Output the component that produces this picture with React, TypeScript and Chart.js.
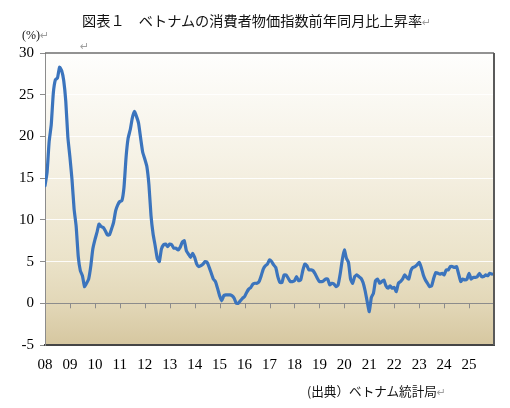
import React, { useEffect, useRef } from "react";
import { Chart, registerables } from "chart.js";

Chart.register(...registerables);

const title = "図表１　ベトナムの消費者物価指数前年同月比上昇率";
const unitLabel = "(%)";
const sourceLabel = "(出典）ベトナム統計局";

const years = [2008, 2009, 2010, 2011, 2012, 2013, 2014, 2015, 2016, 2017, 2018, 2019, 2020, 2021, 2022, 2023, 2024, 2025];

const cpi2008 = [14.1, 15.7, 19.4, 21.4, 25.2, 26.8, 27.0, 28.3, 27.9, 26.7, 24.2, 19.9];
const cpi2009 = [17.5, 14.8, 11.3, 9.2, 5.6, 3.9, 3.3, 2.0, 2.4, 2.9, 4.4, 6.5];
const cpi2010 = [7.6, 8.5, 9.5, 9.2, 9.1, 8.7, 8.2, 8.2, 8.9, 9.7, 11.1, 11.8];
const cpi2011 = [12.2, 12.3, 13.9, 17.5, 19.8, 20.8, 22.2, 23.0, 22.4, 21.6, 19.8, 18.1];
const cpi2012 = [17.3, 16.4, 14.2, 10.5, 8.3, 6.9, 5.4, 5.0, 6.5, 7.0, 7.1, 6.8];
const cpi2013 = [7.1, 7.0, 6.6, 6.6, 6.4, 6.7, 7.3, 7.5, 6.3, 5.9, 5.5, 6.0];
const cpi2014 = [5.5, 4.7, 4.4, 4.5, 4.7, 5.0, 4.9, 4.3, 3.6, 2.9, 2.6, 1.8];
const cpi2015 = [0.9, 0.3, 0.9, 1.0, 1.0, 1.0, 0.9, 0.6, 0.0, 0.0, 0.3, 0.6];
const cpi2016 = [0.8, 1.3, 1.7, 1.9, 2.3, 2.4, 2.4, 2.6, 3.3, 4.1, 4.5, 4.7];
const cpi2017 = [5.2, 5.0, 4.6, 4.3, 3.2, 2.5, 2.5, 3.4, 3.4, 3.0, 2.6, 2.6];
const cpi2018 = [2.7, 3.2, 2.7, 2.8, 3.9, 4.7, 4.5, 4.0, 4.0, 3.9, 3.5, 3.0];
const cpi2019 = [2.6, 2.6, 2.7, 2.9, 2.9, 2.2, 2.4, 2.3, 2.0, 2.2, 3.5, 5.2];
const cpi2020 = [6.4, 5.4, 4.9, 2.9, 2.4, 3.2, 3.4, 3.2, 3.0, 2.5, 1.5, 0.2];
const cpi2021 = [-1.0, 0.7, 1.2, 2.7, 2.9, 2.4, 2.6, 2.8, 2.1, 1.8, 2.1, 1.8];
const cpi2022 = [1.9, 1.4, 2.4, 2.6, 2.9, 3.4, 3.1, 2.9, 3.9, 4.3, 4.4, 4.6];
const cpi2023 = [4.9, 4.3, 3.4, 2.8, 2.4, 2.0, 2.1, 3.0, 3.7, 3.6, 3.5, 3.6];
const cpi2024 = [3.4, 4.0, 4.0, 4.4, 4.4, 4.3, 4.4, 3.5, 2.6, 2.9, 2.8, 2.9];
const cpi2025 = [3.6, 2.9, 3.1, 3.1, 3.2, 3.6, 3.2, 3.2, 3.4, 3.3, 3.6, 3.5];

const cpiByYear = [
  cpi2008, cpi2009, cpi2010, cpi2011, cpi2012, cpi2013, cpi2014, cpi2015, cpi2016,
  cpi2017, cpi2018, cpi2019, cpi2020, cpi2021, cpi2022, cpi2023, cpi2024, cpi2025,
];

const yTicks = [-5, 0, 5, 10, 15, 20, 25, 30];

const points = years.flatMap((yr, yi) =>
  cpiByYear[yi].map((v, m) => ({ x: yr + m / 12, y: v }))
);

const framePlugin = {
  id: "framePlugin",
  beforeDraw(chart: any) {
    const { ctx, chartArea } = chart;
    const g = ctx.createLinearGradient(0, chartArea.top, 0, chartArea.bottom);
    g.addColorStop(0, "#fefefd");
    g.addColorStop(0.35, "#f6f2e6");
    g.addColorStop(0.7, "#ebe3ca");
    g.addColorStop(0.86, "#e2d7b7");
    g.addColorStop(1, "#d6c7a0");
    ctx.save();
    ctx.fillStyle = g;
    ctx.fillRect(chartArea.left, chartArea.top, chartArea.right - chartArea.left, chartArea.bottom - chartArea.top);
    ctx.restore();
  },
  beforeDatasetsDraw(chart: any) {
    const { ctx } = chart;
    const xs = chart.scales.x;
    const ys = chart.scales.y;
    const y0 = ys.getPixelForValue(0);
    ctx.save();
    ctx.strokeStyle = "#8c8c8c";
    ctx.lineWidth = 1;
    years.slice(1).forEach((yr) => {
      const px = Math.round(xs.getPixelForValue(yr)) + 0.5;
      ctx.beginPath();
      ctx.moveTo(px, y0);
      ctx.lineTo(px, y0 + 5);
      ctx.stroke();
    });
    ctx.restore();
  },
  afterDraw(chart: any) {
    const { ctx, chartArea } = chart;
    ctx.save();
    ctx.strokeStyle = "#6e6e6e";
    ctx.lineWidth = 1.5;
    ctx.beginPath();
    ctx.moveTo(chartArea.left, chartArea.top);
    ctx.lineTo(chartArea.right, chartArea.top);
    ctx.stroke();
    ctx.strokeStyle = "#5a5a5a";
    ctx.lineWidth = 2;
    ctx.beginPath();
    ctx.moveTo(chartArea.right, chartArea.top);
    ctx.lineTo(chartArea.right, chartArea.bottom);
    ctx.stroke();
    ctx.restore();
  },
};

function CpiChart() {
  const ref = useRef<HTMLCanvasElement>(null);
  useEffect(() => {
    if (!ref.current) return;
    const chart = new Chart(ref.current, {
      type: "line",
      data: {
        datasets: [
          {
            data: points,
            borderColor: "#3b74bd",
            borderWidth: 3.2,
            pointRadius: 0,
            tension: 0.15,
            fill: false,
            borderJoinStyle: "round",
            borderCapStyle: "round",
          },
        ],
      },
      options: {
        animation: false,
        responsive: false,
        devicePixelRatio: 1,
        layout: { padding: { left: 0, top: 53, right: 16, bottom: 0 } },
        plugins: { legend: { display: false }, tooltip: { enabled: false }, title: { display: false } },
        scales: {
          x: {
            type: "linear",
            min: 2008,
            max: 2026,
            afterFit: (s: any) => {
              s.height = 63;
            },
            afterBuildTicks: (s: any) => {
              s.ticks = years.map((v) => ({ value: v }));
            },
            ticks: {
              autoSkip: false,
              maxRotation: 0,
              padding: 11,
              color: "#000",
              font: { family: "'Liberation Serif', serif", size: 15 },
              callback: (v: any) => String(v).slice(2),
            },
            grid: { display: false, drawTicks: false },
            border: { display: true, color: "#454545", width: 2 },
          },
          y: {
            min: -5,
            max: 30,
            afterFit: (s: any) => {
              s.width = 45;
            },
            afterBuildTicks: (s: any) => {
              s.ticks = yTicks.map((v) => ({ value: v }));
            },
            ticks: {
              padding: 6,
              color: "#000",
              font: { family: "'Liberation Serif', serif", size: 15 },
              callback: (v: any) => String(v),
            },
            grid: {
              drawTicks: true,
              tickLength: 5,
              lineWidth: 1,
              tickColor: "#8c8c8c",
              color: (c: any) => {
                const v = c.tick ? c.tick.value : null;
                if (v === 0) return "#8c8c8c";
                if (v === 30 || v === -5) return "rgba(0,0,0,0)";
                return "rgba(255,255,255,0.9)";
              },
            },
            border: { display: true, color: "#8c8c8c", width: 1 },
          },
        },
      },
      plugins: [framePlugin],
    });
    return () => chart.destroy();
  }, []);
  return <canvas ref={ref} width={510} height={408} style={{ position: "absolute", left: 0, top: 0 }} />;
}

const markStyle: React.CSSProperties = { color: "#a0a0a0", fontSize: 11, fontFamily: "'DejaVu Sans', sans-serif" };

export default function App() {
  return (
    <div style={{ position: "absolute", left: 0, top: 0, width: 510, height: 408, background: "#fff", overflow: "hidden" }}>
      <CpiChart />
      <div
        style={{
          position: "absolute",
          left: 82,
          top: 11,
          fontFamily: "'Noto Sans CJK JP', sans-serif",
          fontSize: 14.2,
          lineHeight: "18px",
          color: "#111",
          whiteSpace: "nowrap",
        }}
      >
        {title}
        <span style={markStyle}>↵</span>
      </div>
      <div
        style={{
          position: "absolute",
          left: 22,
          top: 28,
          fontFamily: "'Liberation Serif', serif",
          fontSize: 12,
          lineHeight: "14px",
          color: "#111",
          whiteSpace: "nowrap",
        }}
      >
        {unitLabel}
        <span style={markStyle}>↵</span>
      </div>
      <div style={{ position: "absolute", left: 80, top: 41, lineHeight: "12px", ...markStyle }}>↵</div>
      <div
        style={{
          position: "absolute",
          left: 307,
          top: 383,
          fontFamily: "'Noto Sans CJK JP', sans-serif",
          fontSize: 12.6,
          lineHeight: "16px",
          color: "#111",
          whiteSpace: "nowrap",
        }}
      >
        {sourceLabel}
        <span style={markStyle}>↵</span>
      </div>
    </div>
  );
}
